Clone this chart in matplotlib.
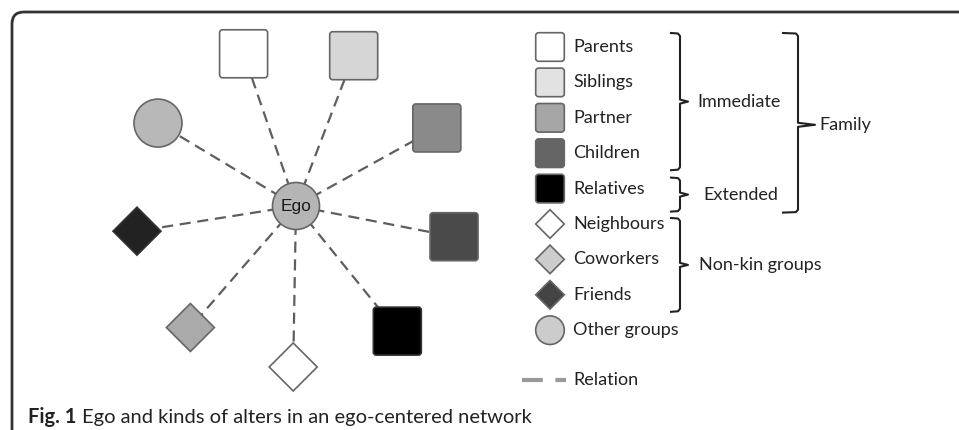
import numpy as np
import matplotlib
matplotlib.use("Agg")
import matplotlib.pyplot as plt
from matplotlib.patches import FancyBboxPatch, Circle, Polygon

# alters, clockwise from the top-left square
alters      = ['Parents', 'Siblings', 'Partner', 'Children', 'Relatives',
               'Neighbours', 'Coworkers', 'Friends', 'Other groups']
alter_shape = ['square', 'square', 'square', 'square', 'square',
               'diamond', 'diamond', 'diamond', 'circle']
net_fill    = ['#ffffff', '#d6d6d6', '#8a8a8a', '#4a4a4a', '#000000',
               '#ffffff', '#aaaaaa', '#222222', '#b8b8b8']
key_fill    = ['#ffffff', '#e2e2e2', '#a6a6a6', '#646464', '#000000',
               '#ffffff', '#cccccc', '#444444', '#cccccc']

groups      = ['Immediate', 'Extended', 'Non-kin groups']
group_span  = [(0, 3), (4, 4), (5, 7)]   # index range of alters
family_span = (0, 4)

caption_bold = 'Fig. 1'
caption_text = 'Ego and kinds of alters in an ego-centered network'

W, H = 959, 430
fig = plt.figure(figsize=(W / 100, H / 100), dpi=100)
ax = fig.add_axes([0, 0, 1, 1])
ax.set_xlim(0, W)
ax.set_ylim(H, 0)
ax.axis('off')

txtfont = ['Lato', 'DejaVu Sans']


def draw_shape(kind, cx, cy, half, fc, ec, z=3):
    if kind == 'square':
        p = FancyBboxPatch((cx - half + 3, cy - half + 3), 2 * half - 6, 2 * half - 6,
                           boxstyle='round,pad=3', fc=fc, ec=ec, lw=1.2, zorder=z)
    elif kind == 'diamond':
        p = Polygon([(cx, cy - half), (cx + half, cy), (cx, cy + half), (cx - half, cy)],
                    closed=True, fc=fc, ec=ec, lw=1.2, zorder=z)
    else:
        p = Circle((cx, cy), half, fc=fc, ec=ec, lw=1.2, zorder=z)
    ax.add_patch(p)


#frame
fr = FancyBboxPatch((12, 12), 1100, 600, boxstyle='round,pad=0,rounding_size=12',
                    fc='none', ec='#333333', lw=2, zorder=1)
ax.add_patch(fr)

#network
ego = (296, 206)
dist = 161
for i, name in enumerate(alters):
    ang = np.deg2rad(109 - 40 * i)
    x = ego[0] + dist * np.cos(ang)
    y = ego[1] - dist * np.sin(ang)
    ax.plot([ego[0], x], [ego[1], y], color='#5e5e5e', lw=1.6,
            dashes=(5, 3), zorder=2)
    ec = '#666666' if net_fill[i] not in ('#000000', '#222222') else '#333333'
    draw_shape(alter_shape[i], x, y, 24, net_fill[i], ec)

ax.add_patch(Circle(ego, 23.5, fc='#b5b5b5', ec='#666666', lw=1.2, zorder=4))
ax.text(ego[0], ego[1] + 1, 'Ego', ha='center', va='center', fontsize=12.5,
        family='Liberation Sans', color='#1a1a1a', zorder=5)

#legend
y0, dy = 47, 35.4
for i, name in enumerate(alters):
    y = y0 + dy * i
    draw_shape(alter_shape[i], 550, y, 14.3, key_fill[i], '#666666')
    ax.text(573, y, name, ha='left', va='center', fontsize=13,
            family=txtfont, color='#222222')

yr = y0 + dy * len(alters) + 14
ax.plot([522, 566], [yr, yr], color='#999999', lw=3, dashes=(5, 3),
        solid_capstyle='butt')
ax.text(573, yr, 'Relation', ha='left', va='center', fontsize=13,
        family=txtfont, color='#222222')


def brace(xl, xv, top, bot, mid, xn):
    xs = [xl, xv - 2, xv, xv, xn, xv, xv, xv - 2, xl]
    ys = [top, top + 0.5, top + 3, mid - 2, mid, mid + 2, bot - 3, bot - 0.5, bot]
    ax.plot(xs, ys, color='#222222', lw=1.5, solid_joinstyle='round')


# padding of each brace above first / below last item
brace_pad = [(14, 17), (11, 23), (6, 17)]
text_x = [697, 703, 699]
for g, (a, b), (pt, pb), tx in zip(groups, group_span, brace_pad, text_x):
    top = y0 + dy * a - pt
    bot = y0 + dy * b + pb
    mid = (top + bot) / 2
    brace(671, 680, top, bot, mid, 688)
    ax.text(tx, mid, g, ha='left', va='center',
            fontsize=13, family=txtfont, color='#222222')

ftop = y0 + dy * family_span[0] - 14
fbot = y0 + dy * family_span[1] + 24
fmid = (ftop + fbot) / 2 + 2
brace(783, 798, ftop, fbot, fmid, 815)
ax.text(819, fmid, 'Family', ha='left', va='center', fontsize=13,
        family=txtfont, color='#222222')

#caption
t1 = ax.text(28, 417, caption_bold, ha='left', va='center', fontsize=14.5,
             family=txtfont, weight='bold', color='#222222')
fig.canvas.draw()
bb = t1.get_window_extent()
ax.text(bb.x1 + 6, 417, caption_text, ha='left', va='center', fontsize=14.5,
        family=txtfont, color='#222222')

fig.savefig('out.png', dpi=100)
